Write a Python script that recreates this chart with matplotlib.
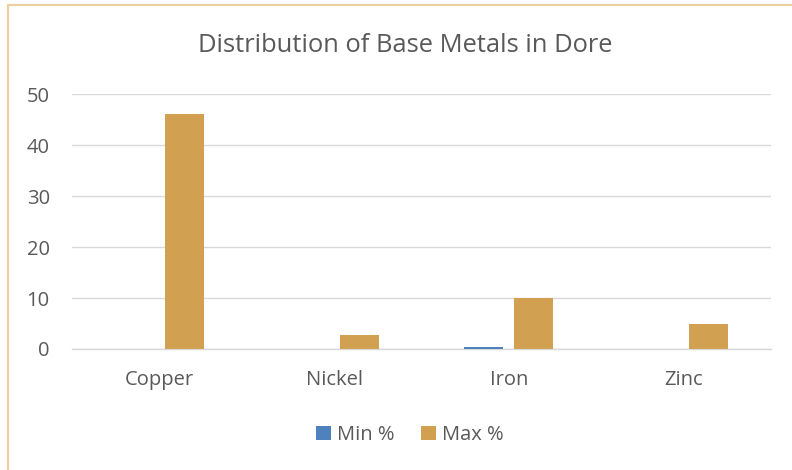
import matplotlib
matplotlib.use("Agg")
import matplotlib.pyplot as plt
from matplotlib.lines import Line2D
import numpy as np

plt.rcParams['font.family'] = ['Open Sans', 'DejaVu Sans']

categories = ["Copper", "Nickel", "Iron", "Zinc"]
min_pct = [0.05, 0.05, 0.3, 0.05]
max_pct = [46, 2.8, 10, 5]
series_names = ["Min %", "Max %"]
colors = ["#4F81BD", "#D1A151"]
yticks = [0, 10, 20, 30, 40, 50]

fig = plt.figure(figsize=(7.92, 4.70), dpi=100)
ax = fig.add_axes([72/792, 1-349/470, 699/792, 255/470])

x = np.arange(len(categories))
w = 0.223
off = 0.143
ax.bar(x - off, min_pct, width=w, color=colors[0], label=series_names[0], zorder=3)
ax.bar(x + off, max_pct, width=w, color=colors[1], label=series_names[1], zorder=3)

ax.set_xlim(-0.5, len(categories) - 0.5)
ax.set_ylim(0, 50)
ax.set_yticks(yticks)
ax.set_xticks(x)
ax.set_xticklabels(categories)
ax.grid(axis='y', color='#D9D9D9', linewidth=1.0, zorder=0)
for s in ['top', 'right', 'left']:
    ax.spines[s].set_visible(False)
ax.spines['bottom'].set_color('#D9D9D9')
ax.spines['bottom'].set_linewidth(1.0)
ax.tick_params(axis='both', length=0, labelsize=14.5, colors='#595959')
ax.tick_params(axis='y', pad=16)
ax.tick_params(axis='x', pad=15)

fig.text(405/792, 1-45/470, "Distribution of Base Metals in Dore", ha='center', va='center',
         fontsize=18.4, color='#595959')

ax.legend(loc='center', bbox_to_anchor=(410/792, 1-435/470), bbox_transform=fig.transFigure,
          ncol=2, frameon=False, fontsize=14.5, labelcolor='#595959',
          handlelength=0.75, handleheight=0.75, handletextpad=0.3, columnspacing=1.3)

# chart border (top & left visible)
fig.add_artist(Line2D([8/792, 8/792], [0, 1-5/470], transform=fig.transFigure, color='#EBCF9E', linewidth=1.5))
fig.add_artist(Line2D([8/792, 1], [1-5/470, 1-5/470], transform=fig.transFigure, color='#EBCF9E', linewidth=1.5))

fig.savefig("out.png", dpi=100)
